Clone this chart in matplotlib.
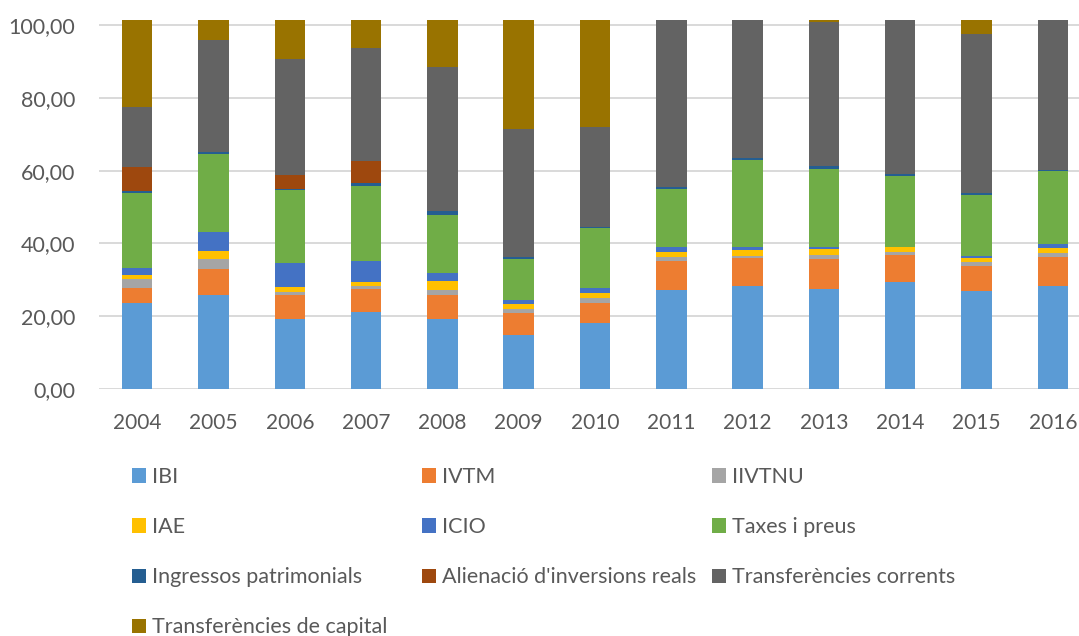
import matplotlib
matplotlib.use("Agg")
import matplotlib.pyplot as plt
import numpy as np

plt.rcParams['font.family'] = ['Lato', 'DejaVu Sans']

# years on the x axis
years = ['2004', '2005', '2006', '2007', '2008', '2009', '2010',
         '2011', '2012', '2013', '2014', '2015', '2016']

# segment heights (bottom to top)
ibi       = [23.5, 25.7, 19.3, 21.2, 19.1, 14.9, 18.1, 27.3, 28.4, 27.6, 29.4, 27.0, 28.4]
ivtm      = [4.3, 7.4, 6.6, 6.4, 6.7, 5.9, 5.6, 8.0, 7.7, 8.2, 7.5, 6.9, 7.9]
iivtnu    = [2.3, 2.6, 0.8, 0.7, 1.5, 1.3, 1.3, 1.0, 0.5, 0.9, 0.7, 0.9, 1.2]
iae       = [1.2, 2.1, 1.2, 1.2, 2.5, 1.2, 1.3, 1.3, 1.6, 1.7, 1.4, 1.3, 1.2]
icio      = [1.9, 5.3, 6.6, 5.8, 2.0, 1.2, 1.5, 1.5, 0.9, 0.7, 0.1, 0.4, 1.2]
taxes     = [20.7, 21.6, 20.2, 20.5, 16.1, 11.3, 16.4, 15.9, 23.8, 21.4, 19.5, 16.9, 20.0]
ingressos = [0.4, 0.4, 0.2, 0.7, 1.0, 0.5, 0.3, 0.5, 0.5, 0.7, 0.6, 0.4, 0.4]
alienacio = [6.6, 0.0, 3.8, 6.1, 0.0, 0.0, 0.0, 0.0, 0.0, 0.0, 0.0, 0.0, 0.0]
transf_corr = [16.5, 30.8, 32.1, 31.2, 39.7, 35.1, 27.4, 45.9, 38.0, 39.7, 42.2, 43.8, 41.1]
transf_cap  = [24.0, 5.5, 10.6, 7.6, 12.8, 30.0, 29.5, 0.0, 0.0, 0.5, 0.0, 3.8, 0.0]

labels = ['IBI', 'IVTM', 'IIVTNU', 'IAE', 'ICIO', 'Taxes i preus',
          'Ingressos patrimonials', "Alienació d'inversions reals",
          'Transferències corrents', 'Transferències de capital']
series = [ibi, ivtm, iivtnu, iae, icio, taxes, ingressos, alienacio,
          transf_corr, transf_cap]
colors = ['#5B9BD5', '#ED7D31', '#A5A5A5', '#FFC000', '#4472C4', '#70AD47',
          '#255E91', '#9E480E', '#636363', '#997300']

fig = plt.figure(figsize=(10.79, 6.36), dpi=100)
ax = fig.add_axes([99/1079, (636-389)/636, 992/1079, 369/636])

x = np.arange(len(years))
bottom = np.zeros(len(years))
handles = []
for vals, lab, col in zip(series, labels, colors):
    b = ax.bar(x, vals, width=0.40, bottom=bottom, color=col, label=lab,
               linewidth=0, zorder=3)
    handles.append(b)
    bottom += np.array(vals)

ax.set_xlim(-0.5, 12.5)
ax.set_ylim(0, 101.4)
yt = np.arange(0, 101, 20)
ax.set_yticks(yt)
ax.set_yticklabels([('%.2f' % v).replace('.', ',') for v in yt], fontsize=15.5)
ax.set_xticks(x)
ax.set_xticklabels(years, fontsize=15)
ax.grid(axis='y', color='#D9D9D9', linewidth=1.4, zorder=0)
for s in ax.spines.values():
    s.set_visible(False)
ax.tick_params(axis='both', length=0, colors='#595959')
ax.tick_params(axis='y', pad=17)
ax.tick_params(axis='x', pad=17)

# legend laid out row by row in three columns, like the original
col_x = [132/1079, 422/1079, 712/1079]
cols = [[0, 3, 6, 9], [1, 4, 7], [2, 5, 8]]
for cx, idx in zip(col_x, cols):
    fig.legend([handles[i] for i in idx], [labels[i] for i in idx],
               loc='upper left', bbox_to_anchor=(cx, 1 - 467/636),
               frameon=False, fontsize=15.5, labelcolor='#595959',
               handlelength=0.65, handleheight=0.65, handletextpad=0.28,
               labelspacing=1.40, borderpad=0, borderaxespad=0)

fig.savefig('out.png', dpi=100)
